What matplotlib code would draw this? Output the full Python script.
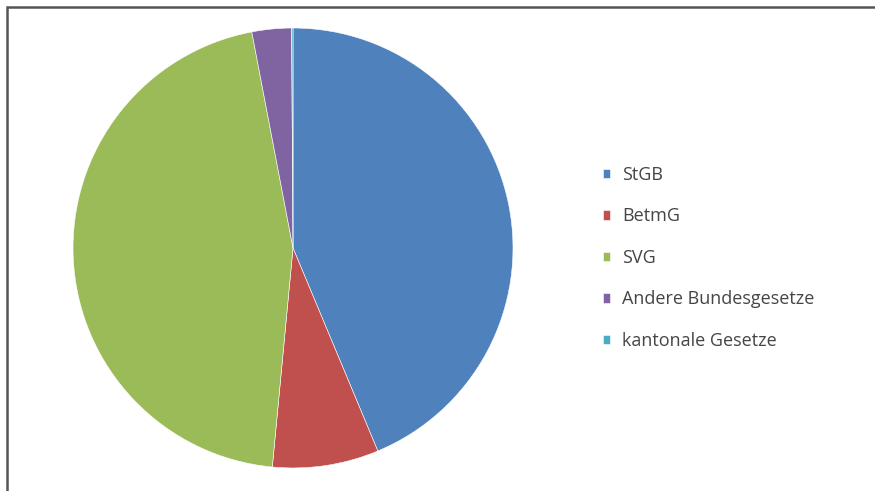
import matplotlib.pyplot as plt
from matplotlib.patches import Rectangle

# Anteile (in %), im Uhrzeigersinn ab 12 Uhr
labels = ['StGB', 'BetmG', 'SVG', 'Andere Bundesgesetze', 'kantonale Gesetze']
shares = [43.7, 7.8, 45.5, 2.9, 0.1]
colors = ['#4F81BD', '#C0504D', '#9BBB59', '#8064A2', '#4BACC6']

W, H = 875, 491
fig = plt.figure(figsize=(W / 100, H / 100), dpi=100, facecolor='white')

# pie centre ~ (293, 248) px, radius ~220 px
cx, cy, r = 293, 248, 220
ax = fig.add_axes([(cx - r) / W, (H - cy - r) / H, 2 * r / W, 2 * r / H])
wedges, _ = ax.pie(shares, colors=colors, startangle=90, counterclock=False,
                   wedgeprops=dict(linewidth=0.4, edgecolor='white'))
ax.set_xlim(-1, 1)
ax.set_ylim(-1, 1)
ax.set_aspect('equal')
ax.axis('off')

leg = fig.legend(wedges, labels, loc='upper left',
                 bbox_to_anchor=(603 / W, 1 - 166 / H),
                 frameon=False, labelcolor='#454545',
                 handlelength=0.4, handleheight=0.4, handletextpad=0.65,
                 labelspacing=1.3, borderaxespad=0, borderpad=0,
                 prop={'family': 'Open Sans', 'size': 13})

# outer frame (open at the bottom / right as in the scan)
fig.add_artist(Rectangle((7 / W, -0.1), 2.0, 1 - 7 / H + 0.1,
                         transform=fig.transFigure, fill=False,
                         edgecolor='#555555', linewidth=1.8))

fig.savefig('out.png', dpi=100, facecolor='white')
